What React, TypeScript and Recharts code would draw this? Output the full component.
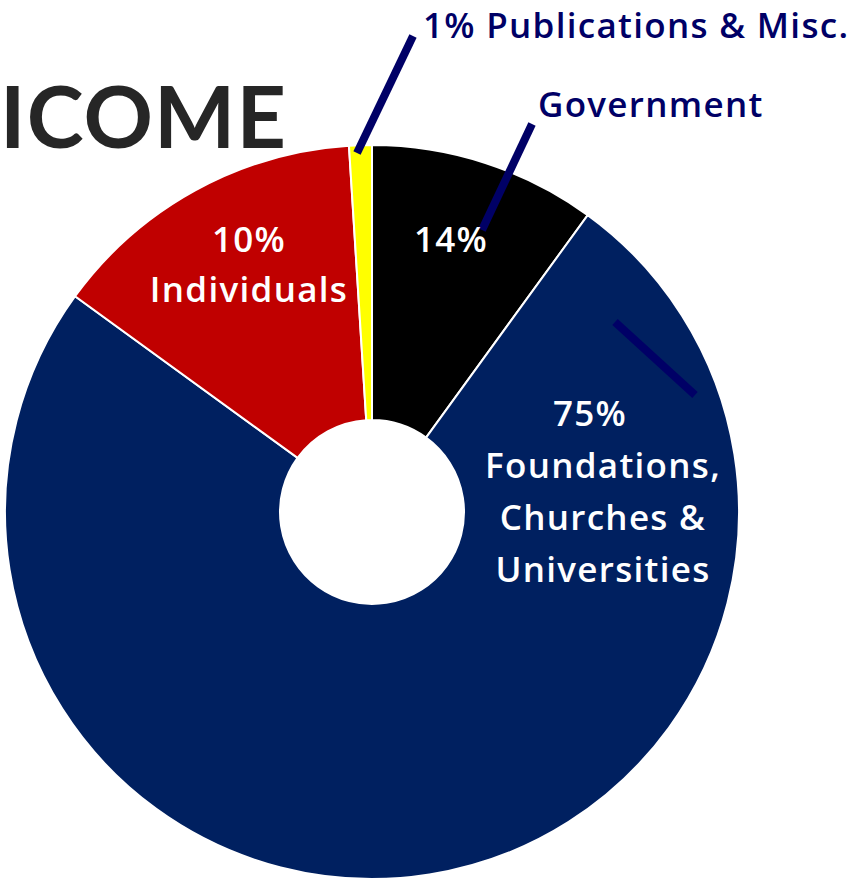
import React from "react";
import { Cell, Pie, PieChart } from "recharts";

const NAVY = "#000066";
const LABEL_FONT = "'Open Sans', sans-serif";

// slices clockwise from 12 o'clock
const sources = ["Government", "Foundations, Churches & Universities", "Individuals", "Publications & Misc."];
const shares = [10, 75, 14, 1];
const colors = ["#000000", "#002060", "#c00000", "#ffff00"];

const data = sources.map((name, i) => ({ name, value: shares[i] }));

// text as printed on the graphic
const titleText = "ICOME";
const outsideLabels = ["1% Publications & Misc.", "Government"];
const governmentPct = "14%";
const individualsLines = ["10%", "Individuals"];
const foundationsLines = ["75%", "Foundations,", "Churches &", "Universities"];

export default function App() {
  return (
    <div style={{ position: "absolute", left: 0, top: 0, width: 853, height: 880, background: "#fff", overflow: "hidden" }}>
      <PieChart width={853} height={880} margin={{ top: 0, right: 0, bottom: 0, left: 0 }}>
        <Pie
          data={data}
          dataKey="value"
          nameKey="name"
          cx={372}
          cy={512}
          innerRadius={92}
          outerRadius={367}
          startAngle={90}
          endAngle={-270}
          stroke="#ffffff"
          strokeWidth={2}
          isAnimationActive={false}
        >
          {data.map((_, i) => (
            <Cell key={i} fill={colors[i]} />
          ))}
        </Pie>
      </PieChart>

      <svg width={853} height={880} style={{ position: "absolute", left: 0, top: 0, pointerEvents: "none" }}>
        <text x={0} y={148} fontFamily="Lato, sans-serif" fontWeight={700} fontSize={86} fill="#262626" textLength={286}>
          {titleText}
        </text>

        <g stroke={NAVY} strokeWidth={8}>
          <line x1={413} y1={36} x2={357} y2={153} />
          <line x1={532} y1={124} x2={482} y2={230} />
          <line x1={615} y1={322} x2={695} y2={395} />
        </g>

        <g fontFamily={LABEL_FONT} fontWeight={600} fontSize={35} letterSpacing={1.3} fill={NAVY}>
          <text x={423} y={38}>{outsideLabels[0]}</text>
          <text x={538} y={117}>{outsideLabels[1]}</text>
        </g>

        <g fontFamily={LABEL_FONT} fontWeight={600} fontSize={35} letterSpacing={1.3} fill="#ffffff" textAnchor="middle">
          <text x={451} y={252}>{governmentPct}</text>
          {individualsLines.map((t, i) => (
            <text key={t} x={249} y={252 + i * 50}>{t}</text>
          ))}
          {foundationsLines.map((t, i) => (
            <text key={t} x={i === 0 ? 590 : 603} y={426 + i * 52}>{t}</text>
          ))}
        </g>
      </svg>
    </div>
  );
}
